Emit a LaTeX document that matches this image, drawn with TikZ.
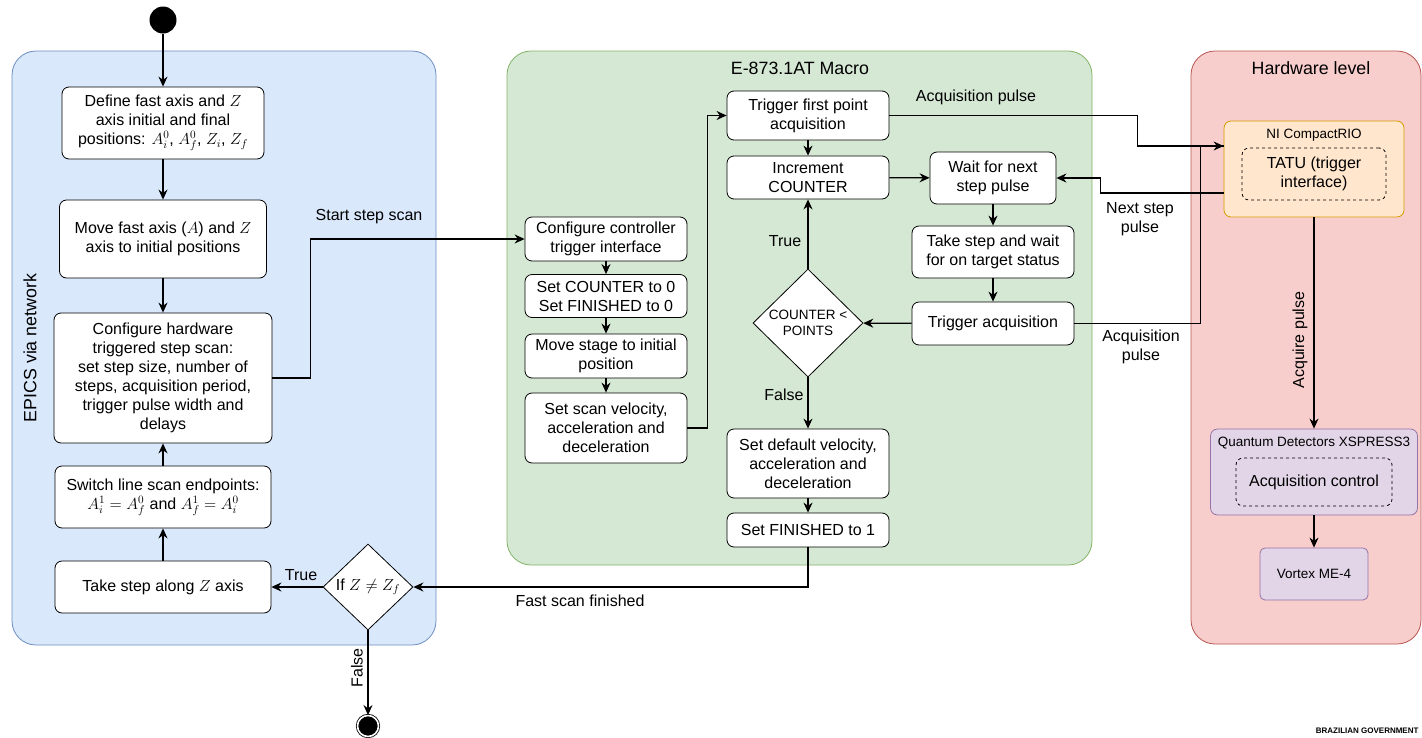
\RequirePackage{fix-cm}
\documentclass[tikz,border=0pt]{standalone}
\usepackage{fontspec}
\setmainfont{Liberation Sans}
\usetikzlibrary{shapes.geometric,arrows.meta,positioning,calc}

\definecolor{epicsfill}{HTML}{DAE8FC}
\definecolor{epicsline}{HTML}{6C8EBF}
\definecolor{macrofill}{HTML}{D5E8D4}
\definecolor{macroline}{HTML}{82B366}
\definecolor{hwfill}{HTML}{F8CECC}
\definecolor{hwline}{HTML}{B85450}
\definecolor{riofill}{HTML}{FFE6CC}
\definecolor{rioline}{HTML}{D79B00}
\definecolor{detfill}{HTML}{E1D5E7}
\definecolor{detline}{HTML}{9673A6}

\newcommand{\mainsize}{\fontsize{16}{19}\selectfont}
\newcommand{\smallsize}{\fontsize{13.5}{16}\selectfont}
\newcommand{\titlesize}{\fontsize{17.8}{21}\selectfont}

\tikzset{
  panel/.style={rounded corners=24pt, line width=0.8pt},
  box/.style={draw, fill=white, rounded corners=7pt, align=center, inner sep=1pt, line width=0.8pt, font=\mainsize},
  decision/.style={diamond, draw, fill=white, aspect=1, inner sep=0pt, line width=0.8pt},
  innerbox/.style={draw, dashed, rounded corners=7pt, align=center, line width=0.8pt, font=\mainsize},
  arr/.style={-{Stealth[length=10pt,width=9pt]}, line width=1.3pt},
  wire/.style={line width=1.3pt},
  lbl/.style={font=\mainsize, align=center},
  startdot/.style={circle, fill=black, minimum size=27pt, inner sep=0pt},
  stopdot/.style={circle, draw, fill=black, double=white, double distance=1.6pt, line width=0.8pt, minimum size=21pt, inner sep=0pt}
}

\begin{document}
\begin{tikzpicture}[x=1pt, y=-1pt]
    \useasboundingbox (0,0) rectangle (1422,737);

    % panels
    \draw[panel, draw=epicsline, fill=epicsfill] (12,51) rectangle (436,645);
    \draw[panel, draw=macroline, fill=macrofill] (507,51) rectangle (1092,565);
    \draw[panel, draw=hwline, fill=hwfill] (1191,51) rectangle (1421,644);
    \node[lbl, font=\titlesize, rotate=90] (epicsname) at (30,348) {EPICS via network};
    \node[lbl, font=\titlesize] (macroname) at (800,68) {E-873.1AT Macro};
    \node[lbl, font=\titlesize] (hwname) at (1311,68) {Hardware level};

    % EPICS side
    \node[startdot] (start) at (163,20) {};
    \node[box, minimum width=202pt, minimum height=72pt] (define) at (163,123)
        {Define fast axis and $Z$\\axis initial and final\\positions: $A_i^0$, $A_f^0$, $Z_i$, $Z_f$};
    \node[box, minimum width=207pt, minimum height=78pt] (move) at (163,239)
        {Move fast axis ($A$) and $Z$\\axis to initial positions};
    \node[box, minimum width=218pt, minimum height=130pt] (config) at (163,378)
        {Configure hardware\\triggered step scan:\\set step size, number of\\steps, acquisition period,\\trigger pulse width and\\delays};
    \node[box, minimum width=216pt, minimum height=62pt] (switch) at (163,497)
        {Switch line scan endpoints:\\$A_i^1=A_f^0$ and $A_f^1=A_i^0$};
    \node[box, minimum width=216pt, minimum height=52pt] (zstep) at (163,587)
        {Take step along $Z$ axis};
    \node[decision, minimum width=90pt, minimum height=86pt] (ifz) at (368,587) {};
    \node[lbl] (ifztext) at (368,587) {If $Z\neq Z_f$};
    \node[stopdot] (stop) at (368,726) {};

    % macro side
    \node[box, minimum width=162pt, minimum height=44pt] (ctrl) at (606,239)
        {Configure controller\\trigger interface};
    \node[box, minimum width=162pt, minimum height=43pt] (zero) at (606,296)
        {Set COUNTER to 0\\Set FINISHED to 0};
    \node[box, minimum width=162pt, minimum height=44pt] (stage) at (606,356)
        {Move stage to initial\\position};
    \node[box, minimum width=162pt, minimum height=70pt] (velo) at (606,428)
        {Set scan velocity,\\acceleration and\\deceleration};
    \node[box, minimum width=162pt, minimum height=49pt] (first) at (808,115.5)
        {Trigger first point\\acquisition};
    \node[box, minimum width=162pt, minimum height=43pt] (incr) at (808,177.5)
        {Increment\\COUNTER};
    \node[decision, minimum width=110pt, minimum height=108pt, font=\smallsize, align=center] (cnt) at (808,323)
        {COUNTER <\\POINTS};
    \node[box, minimum width=162pt, minimum height=69pt] (dflt) at (808,463.5)
        {Set default velocity,\\acceleration and\\deceleration};
    \node[box, minimum width=162pt, minimum height=34pt] (fin) at (808,530)
        {Set FINISHED to 1};
    \node[box, minimum width=126pt, minimum height=52pt] (waitp) at (993,178)
        {Wait for next\\step pulse};
    \node[box, minimum width=162pt, minimum height=52pt] (takestep) at (993,252)
        {Take step and wait\\for on target status};
    \node[box, minimum width=162pt, minimum height=43pt] (trig) at (993,323.5)
        {Trigger acquisition};

    % hardware
    \node[draw=rioline, fill=riofill, rounded corners=7pt, line width=0.8pt, minimum width=180pt, minimum height=96pt] (nicrio) at (1314,169) {};
    \node[font=\smallsize] (nicrioname) at (1314,135) {NI CompactRIO};
    \node[innerbox, minimum width=144pt, minimum height=52pt] (tatu) at (1314,174) {TATU (trigger\\interface)};
    \node[draw=detline, fill=detfill, rounded corners=7pt, line width=0.8pt, minimum width=207pt, minimum height=86pt] (qd) at (1314,472) {};
    \node[font=\smallsize] (qdname) at (1314,443) {Quantum Detectors XSPRESS3};
    \node[innerbox, minimum width=156pt, minimum height=48pt] (acqctrl) at (1314,482) {Acquisition control};
    \node[draw=detline, fill=detfill, rounded corners=5pt, line width=0.8pt, minimum width=108pt, minimum height=52pt, font=\smallsize] (vortex) at (1314,574) {Vortex ME-4};

    \coordinate (acqin) at ([yshift=23pt]nicrio.west);
    \coordinate (nextout) at ([yshift=-24pt]nicrio.west);

    % EPICS flow
    \draw[arr] (start) -- (define);
    \draw[arr] (define) -- (move);
    \draw[arr] (move) -- (config);
    \draw[arr] (switch) -- (config);
    \draw[arr] (zstep) -- (switch);
    \draw[arr] (ifz) -- (zstep);
    \draw[arr] (ifz) -- (stop);
    \draw[arr] (config.east) -- ++(38,0) |- (ctrl.west);
    \node[lbl] (truez) at (301,575) {True};
    \node[lbl, rotate=90] (falsez) at (357,668) {False};
    \node[lbl] (startlbl) at (369,217) {Start step scan};

    % macro flow
    \draw[arr] (ctrl) -- (zero);
    \draw[arr] (zero) -- (stage);
    \draw[arr] (stage) -- (velo);
    \draw[arr] (velo.east) -- ++(20,0) |- (first.west);
    \draw[arr] (first) -- (incr);
    \draw[arr] (incr) -- (waitp);
    \draw[arr] (waitp) -- (takestep);
    \draw[arr] (takestep) -- (trig);
    \draw[arr] (trig) -- (cnt);
    \draw[arr] (cnt) -- (incr);
    \draw[arr] (cnt) -- (dflt);
    \draw[arr] (dflt) -- (fin);
    \draw[arr] (fin.south) |- (ifz.east);
    \node[lbl] (truec) at (785,241) {True};
    \node[lbl] (falsec) at (784,395) {False};
    \node[lbl] (finlbl) at (580,601) {Fast scan finished};

    % pulses
    \draw[arr] (first.east) -- ++(248,0) |- (acqin);
    \draw[wire] (trig.east) -- ++(126,0) |- (acqin);
    \draw[arr] (nextout) -- ++(-123,0) |- (waitp.east);
    \draw[arr] (nicrio) -- (qd);
    \draw[arr] (qd) -- (vortex);
    \node[lbl] (acqlbl) at (976,97) {Acquisition pulse};
    \node[lbl] (nextlbl) at (1140,219) {Next step\\pulse};
    \node[lbl] (acqlbl2) at (1141,347) {Acquisition\\pulse};
    \node[lbl, rotate=90] (acquirelbl) at (1300,340) {Acquire pulse};

    \node[anchor=east, font=\fontsize{8}{9}\selectfont\bfseries] (brand) at (1422,731) {BRAZILIAN GOVERNMENT};
\end{tikzpicture}
\end{document}
